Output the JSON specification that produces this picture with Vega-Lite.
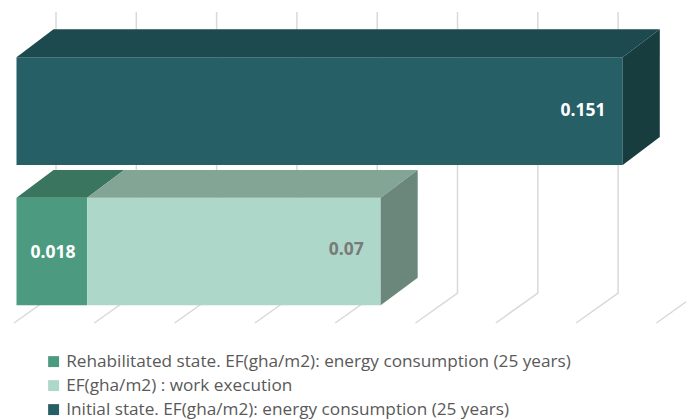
{
"$schema":"https://vega.github.io/schema/vega-lite/v6.json",
"width":686,"height":419,"padding":0,
"autosize":{"type":"fit","contains":"padding"},
"background":"white",
"config":{"view":{"stroke":null}},
"layer":[
{"data":{"values":[
{"tick":0,"i":0,"x":-0.00062,"y":0},{"tick":0,"i":1,"x":0.00984,"y":0.2135},{"tick":0,"i":2,"x":0.00984,"y":2.2135},
{"tick":0.02,"i":0,"x":0.01938,"y":0},{"tick":0.02,"i":1,"x":0.02984,"y":0.2135},{"tick":0.02,"i":2,"x":0.02984,"y":2.2135},
{"tick":0.04,"i":0,"x":0.03938,"y":0},{"tick":0.04,"i":1,"x":0.04984,"y":0.2135},{"tick":0.04,"i":2,"x":0.04984,"y":2.2135},
{"tick":0.06,"i":0,"x":0.05938,"y":0},{"tick":0.06,"i":1,"x":0.06984,"y":0.2135},{"tick":0.06,"i":2,"x":0.06984,"y":2.2135},
{"tick":0.08,"i":0,"x":0.07938,"y":0},{"tick":0.08,"i":1,"x":0.08984,"y":0.2135},{"tick":0.08,"i":2,"x":0.08984,"y":2.2135},
{"tick":0.10,"i":0,"x":0.09938,"y":0},{"tick":0.10,"i":1,"x":0.10984,"y":0.2135},{"tick":0.10,"i":2,"x":0.10984,"y":2.2135},
{"tick":0.12,"i":0,"x":0.11938,"y":0},{"tick":0.12,"i":1,"x":0.12984,"y":0.2135},{"tick":0.12,"i":2,"x":0.12984,"y":2.2135},
{"tick":0.14,"i":0,"x":0.13938,"y":0},{"tick":0.14,"i":1,"x":0.14984,"y":0.2135},{"tick":0.14,"i":2,"x":0.14984,"y":2.2135},
{"tick":0.16,"i":0,"x":0.15938,"y":0},{"tick":0.16,"i":1,"x":0.1675,"y":0.1656}
]},
"mark":{"type":"line","stroke":"#D9D9D9","strokeWidth":1.5,"clip":true},
"encoding":{
"x":{"field":"x","type":"quantitative","axis":null,"scale":{"domain":[-0.00411,0.16675],"nice":false,"zero":false}},
"y":{"field":"y","type":"quantitative","axis":null,"scale":{"domain":[-0.6833,2.2989],"nice":false,"zero":false}},
"detail":{"field":"tick"},
"order":{"field":"i"}
}},
{"data":{"values":[
{"face":"Initial state. EF(gha/m2): energy consumption (25 years)","i":0,"x":0,"y":1.891},
{"face":"Initial state. EF(gha/m2): energy consumption (25 years)","i":1,"x":0.151,"y":1.891},
{"face":"Initial state. EF(gha/m2): energy consumption (25 years)","i":2,"x":0.151,"y":1.1246},
{"face":"Initial state. EF(gha/m2): energy consumption (25 years)","i":3,"x":0,"y":1.1246},
{"face":"Initial top","i":0,"x":0,"y":1.891},{"face":"Initial top","i":1,"x":0.00922,"y":2.0904},{"face":"Initial top","i":2,"x":0.16022,"y":2.0904},{"face":"Initial top","i":3,"x":0.151,"y":1.891},
{"face":"Initial side","i":0,"x":0.151,"y":1.891},{"face":"Initial side","i":1,"x":0.16022,"y":2.0904},{"face":"Initial side","i":2,"x":0.16022,"y":1.3238},{"face":"Initial side","i":3,"x":0.151,"y":1.1246},
{"face":"Rehabilitated state. EF(gha/m2): energy consumption (25 years)","i":0,"x":0,"y":0.8918},
{"face":"Rehabilitated state. EF(gha/m2): energy consumption (25 years)","i":1,"x":0.0176,"y":0.8918},
{"face":"Rehabilitated state. EF(gha/m2): energy consumption (25 years)","i":2,"x":0.0176,"y":0.126},
{"face":"Rehabilitated state. EF(gha/m2): energy consumption (25 years)","i":3,"x":0,"y":0.126},
{"face":"Rehabilitated top","i":0,"x":0,"y":0.8918},{"face":"Rehabilitated top","i":1,"x":0.00922,"y":1.089},{"face":"Rehabilitated top","i":2,"x":0.02682,"y":1.089},{"face":"Rehabilitated top","i":3,"x":0.0176,"y":0.8918},
{"face":"EF(gha/m2) : work execution","i":0,"x":0.0176,"y":0.8918},
{"face":"EF(gha/m2) : work execution","i":1,"x":0.0907,"y":0.8918},
{"face":"EF(gha/m2) : work execution","i":2,"x":0.0907,"y":0.126},
{"face":"EF(gha/m2) : work execution","i":3,"x":0.0176,"y":0.126},
{"face":"Work top","i":0,"x":0.0176,"y":0.8918},{"face":"Work top","i":1,"x":0.02682,"y":1.089},{"face":"Work top","i":2,"x":0.09992,"y":1.089},{"face":"Work top","i":3,"x":0.0907,"y":0.8918},
{"face":"Work side","i":0,"x":0.0907,"y":0.8918},{"face":"Work side","i":1,"x":0.09992,"y":1.089},{"face":"Work side","i":2,"x":0.09992,"y":0.3224},{"face":"Work side","i":3,"x":0.0907,"y":0.126}
]},
"mark":{"type":"line","filled":true,"interpolate":"linear-closed","strokeWidth":0},
"encoding":{
"x":{"field":"x","type":"quantitative"},
"y":{"field":"y","type":"quantitative"},
"order":{"field":"i"},
"color":{"field":"face","type":"nominal",
"scale":{"domain":["Rehabilitated state. EF(gha/m2): energy consumption (25 years)","EF(gha/m2) : work execution","Initial state. EF(gha/m2): energy consumption (25 years)","Initial top","Initial side","Rehabilitated top","Work top","Work side"],
"range":["#4C9B80","#ADD7C9","#265F66","#1D4A4F","#183D3F","#39755F","#83A596","#6B877C"]},
"legend":{"values":["Rehabilitated state. EF(gha/m2): energy consumption (25 years)","EF(gha/m2) : work execution","Initial state. EF(gha/m2): energy consumption (25 years)"],
"title":null,"orient":"none","legendX":45,"legendY":353,"symbolType":"square","symbolSize":120,"symbolStrokeWidth":0,"labelFont":"Open Sans","labelFontSize":17.2,"labelColor":"#595959","labelLimit":600,"rowPadding":6,"labelOffset":4,"padding":0}}
}},
{"data":{"values":[{"label":"0.151","x":0.1411,"y":1.51},{"label":"0.018","x":0.0091,"y":0.5}]},
"mark":{"type":"text","font":"Open Sans","fontWeight":"bold","fontSize":17.5,"color":"white"},
"encoding":{"x":{"field":"x","type":"quantitative"},"y":{"field":"y","type":"quantitative"},"text":{"field":"label"}}},
{"data":{"values":[{"label":"0.07","x":0.0821,"y":0.522}]},
"mark":{"type":"text","font":"Open Sans","fontWeight":"bold","fontSize":17.5,"color":"#7A7A7A"},
"encoding":{"x":{"field":"x","type":"quantitative"},"y":{"field":"y","type":"quantitative"},"text":{"field":"label"}}}
]
}
